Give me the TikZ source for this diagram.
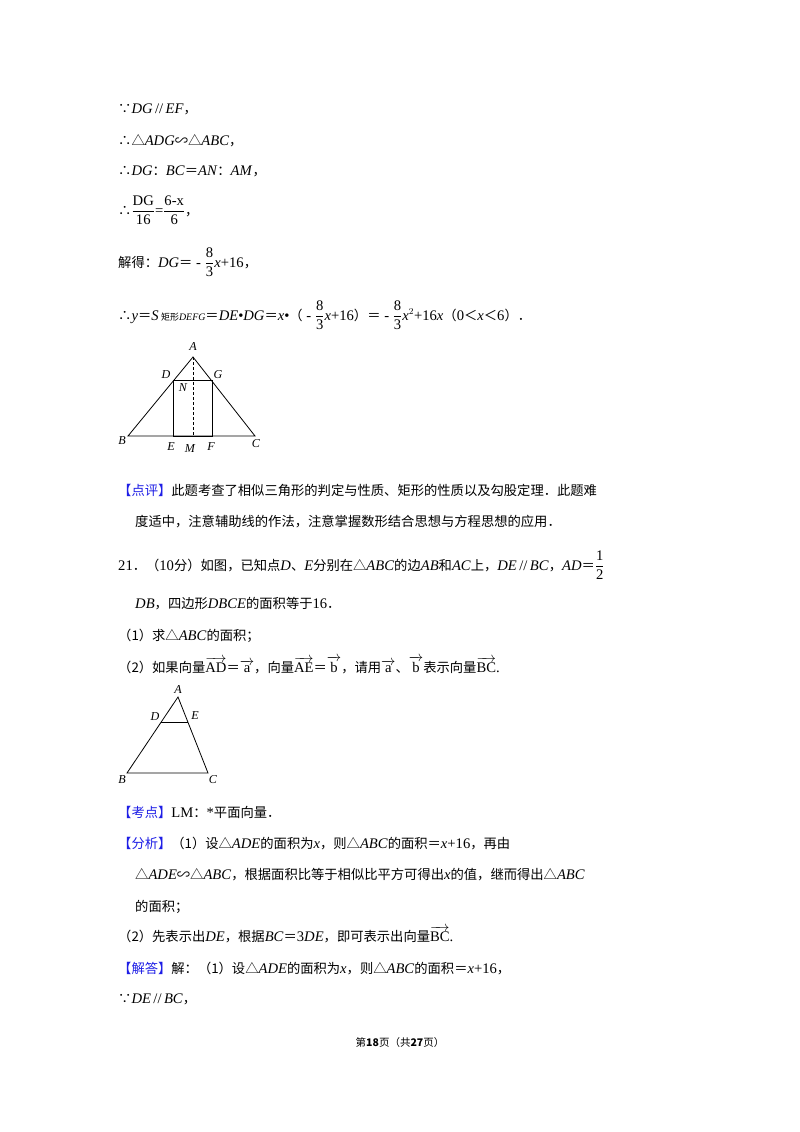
\documentclass[tikz,border=0pt]{standalone}
\usepackage{fontspec}
\usepackage{amsmath}
\setmainfont{Liberation Serif}[Scale=1.1]
\newfontfamily\cjk{Noto Sans CJK SC}
\newcommand\cj[1]{{\cjk #1}}
\newcommand\vi[1]{\textit{#1}}
\newcommand\fr[2]{$\dfrac{\text{#1}}{\text{#2}}$}
\newcommand\vecl[1]{$\overrightarrow{\text{#1}}$}
\newcommand\eqs{\cj{＝}}
\newcommand\pt{\cj{．}}
\newcommand\lts{\cj{＜}}
\definecolor{tagblue}{RGB}{30,30,230}
\tikzset{
  txt/.style={anchor=base west,inner sep=0pt,font=\fontsize{13.3}{16}\selectfont},
  lbl/.style={inner sep=0pt,font=\fontsize{11}{12}\selectfont\itshape},
  edge/.style={line width=0.8pt}
}
\begin{document}
\begin{tikzpicture}[x=1pt,y=-1pt]
      \useasboundingbox[fill=white] (0,0) rectangle (800,1132);

      %%%% solution text, part one
      \node[txt] (l1) at (118,113) {\cj{∵}\vi{DG}\,//\,\vi{EF}\cj{，}};
      \node[txt] (l2) at (118,145) {\cj{∴△}\vi{ADG}\cj{∽△}\vi{ABC}\cj{，}};
      \node[txt] (l3) at (118,175) {\cj{∴}\vi{DG}\cj{：}\vi{BC}\eqs\vi{AN}\cj{：}\vi{AM}\cj{，}};
      \node[txt] (l4) at (118,215) {\cj{∴}\fr{DG}{16}=\fr{6-x}{6}\cj{，}};
      \node[txt] (l5) at (118,267) {\cj{解得：}\vi{DG}\eqs{} - \fr{8}{3}\vi{x}+16\cj{，}};
      \node[txt] (l6) at (118,320) {\cj{∴}\vi{y}\eqs\vi{S}\,{\fontsize{9}{10}\selectfont\cj{矩形}\vi{DEFG}}\eqs\vi{DE}•\vi{DG}\eqs\vi{x}•\cj{（} - \fr{8}{3}\vi{x}+16\cj{）}\eqs{} - \fr{8}{3}\vi{x}$^2$+16\vi{x}\cj{（}0\lts\vi{x}\lts 6\cj{）}\pt};

      %%%% figure one
      \coordinate (A) at (193,357);
      \coordinate (B) at (128,436);
      \coordinate (C) at (255,436);
      \coordinate (D) at (173,380);
      \coordinate (G) at (212,380);
      \coordinate (E) at (173,436);
      \coordinate (F) at (212,436);
      \coordinate (M) at (193,436);
      \draw[edge] (A) -- (B) -- (C) -- cycle;
      \draw[edge] (D) -- (E) -- (F) -- (G) -- cycle;
      \draw[edge,densely dashed] (A) -- (M);
      \node[lbl] (lA) at (193,347) {A};
      \node[lbl] (lD) at (166,375) {D};
      \node[lbl] (lG) at (218,375) {G};
      \node[lbl] (lN) at (183,388) {N};
      \node[lbl] (lB) at (122,441) {B};
      \node[lbl] (lE) at (171,447) {E};
      \node[lbl] (lM) at (190,449) {M};
      \node[lbl] (lF) at (211,447) {F};
      \node[lbl] (lC) at (256,444) {C};

      %%%% comment and question 21
      \node[txt] (l7) at (118,495) {\cj{\textcolor{tagblue}{【点评】}此题考查了相似三角形的判定与性质、矩形的性质以及勾股定理．此题难}};
      \node[txt] (l8) at (135,526) {\cj{度适中，注意辅助线的作法，注意掌握数形结合思想与方程思想的应用．}};
      \node[txt] (l9) at (118,570) {21\pt\cj{（}10\cj{分）如图，已知点}\vi{D}\cj{、}\vi{E}\cj{分别在△}\vi{ABC}\cj{的边}\vi{AB}\cj{和}\vi{AC}\cj{上，}\vi{DE}\,//\,\vi{BC}\cj{，}\vi{AD}\eqs\fr{1}{2}};
      \node[txt] (l10) at (135,608) {\vi{DB}\cj{，四边形}\vi{DBCE}\cj{的面积等于}16\pt};
      \node[txt] (l11) at (118,640) {\cj{（1）求△}\vi{ABC}\cj{的面积；}};
      \node[txt] (l12) at (118,672) {\cj{（2）如果向量}\vecl{AD}\eqs\vecl{a}\cj{，向量}\vecl{AE}\eqs\vecl{b}\cj{，请用}\vecl{a}\cj{、}\vecl{b}\cj{表示向量}\vecl{BC}.};

      %%%% figure two
      \coordinate (A2) at (178,697);
      \coordinate (B2) at (127,773);
      \coordinate (C2) at (208,773);
      \coordinate (D2) at (161,722);
      \coordinate (E2) at (188,722);
      \draw[edge] (A2) -- (B2) -- (C2) -- cycle;
      \draw[edge] (D2) -- (E2);
      \node[lbl] (lA2) at (178,689) {A};
      \node[lbl] (lD2) at (155,717) {D};
      \node[lbl] (lE2) at (195,716) {E};
      \node[lbl] (lB2) at (122,780) {B};
      \node[lbl] (lC2) at (213,780) {C};

      %%%% key point, analysis, answer
      \node[txt] (l13) at (118,817) {\cj{\textcolor{tagblue}{【考点】}}LM\cj{：}*\cj{平面向量}\pt};
      \node[txt] (l14) at (118,848) {\cj{\textcolor{tagblue}{【分析】}（1）设△}\vi{ADE}\cj{的面积为}\vi{x}\cj{，则△}\vi{ABC}\cj{的面积}\eqs\vi{x}+16\cj{，再由}};
      \node[txt] (l15) at (135,879) {\cj{△}\vi{ADE}\cj{∽△}\vi{ABC}\cj{，根据面积比等于相似比平方可得出}\vi{x}\cj{的值，继而得出△}\vi{ABC}};
      \node[txt] (l16) at (135,911) {\cj{的面积；}};
      \node[txt] (l17) at (118,941) {\cj{（2）先表示出}\vi{DE}\cj{，根据}\vi{BC}\eqs 3\vi{DE}\cj{，即可表示出向量}\vecl{BC}.};
      \node[txt] (l18) at (118,973) {\cj{\textcolor{tagblue}{【解答】}解：（1）设△}\vi{ADE}\cj{的面积为}\vi{x}\cj{，则△}\vi{ABC}\cj{的面积}\eqs\vi{x}+16\cj{，}};
      \node[txt] (l19) at (118,1003) {\cj{∵}\vi{DE}\,//\,\vi{BC}\cj{，}};

      \node[inner sep=0pt,font=\fontsize{10.5}{12}\selectfont] (foot) at (400,1042)
        {\cj{第\textbf{18}页（共\textbf{27}页）}};
    \end{tikzpicture}
\end{document}
